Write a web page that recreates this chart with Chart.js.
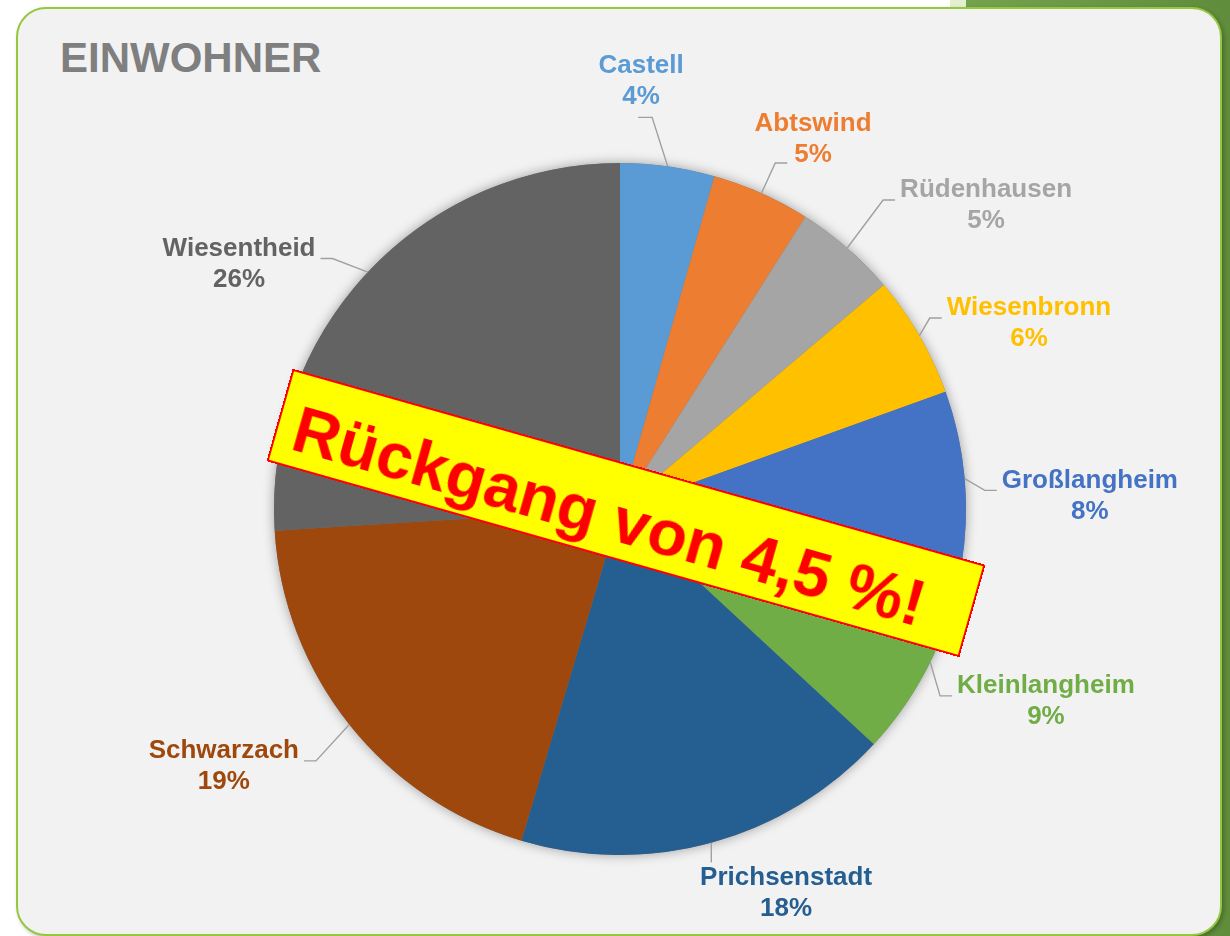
<!DOCTYPE html>
<html>
<head>
<meta charset="utf-8">
<script src="https://cdn.jsdelivr.net/npm/chart.js@4"></script>
<style>
  html, body { margin: 0; padding: 0; }
  body { width: 1230px; height: 936px; overflow: hidden; position: relative; background: #fff; font-family: "Liberation Sans", Arial, sans-serif; }
  .deco { position: absolute; left: 964px; top: 0; width: 266px; height: 936px; background: linear-gradient(to right, #74a24e, #5f8d3b); }
  .deco-light { position: absolute; left: 950px; top: 0; width: 16px; height: 8px; background: #e4efd2; }
  .panel { position: absolute; left: 16px; top: 7px; width: 1206px; height: 929px; box-sizing: border-box; background: #f2f2f2; border: 2px solid #95c83f; border-radius: 30px; box-shadow: 2px 2px 4px rgba(0,0,0,0.25); }
  .title { position: absolute; left: 60px; top: 37px; font-size: 42px; line-height: 42px; font-weight: bold; color: #7f7f7f; }
  .wrap { position: absolute; left: 0; top: 0; width: 1230px; height: 936px; }
  .banner { position: absolute; left: 266px; top: 465px; width: 720px; height: 96px; box-sizing: border-box; background: #ffff00; border: 2px solid #ff0000; color: #ff0000; font-weight: bold; font-size: 65px; line-height: 108px; padding-left: 16px; white-space: nowrap; transform: rotate(15.8deg); transform-origin: 50% 50%; }
</style>
</head>
<body>
<div class="deco"></div>
<div class="deco-light"></div>
<div class="panel"></div>
<div class="title">EINWOHNER</div>
<div class="wrap"><canvas id="pie" width="1230" height="936"></canvas></div>
<div class="banner">Rückgang von 4,5 %!</div>
<script>
// population share per municipality (percent of total)
const towns = ['Castell', 'Abtswind', 'Rüdenhausen', 'Wiesenbronn', 'Großlangheim', 'Kleinlangheim', 'Prichsenstadt', 'Schwarzach', 'Wiesentheid'];
const shares = [4.4, 4.6, 4.8, 5.7, 8.2, 9.2, 17.7, 19.4, 26.0];
const sliceColors = ['#5b9bd5', '#ed7d31', '#a5a5a5', '#ffc000', '#4472c4', '#70ad47', '#255e91', '#9e480e', '#636363'];

// label box centre relative to pie centre, in units of the radius, and where the leader line attaches
const labelSpots = [
  [0.061, -1.236, 'below'],
  [0.558, -1.068, 'l2'],
  [1.058, -0.877, 'left'],
  [1.182, -0.536, 'left'],
  [1.358, -0.038, 'left'],
  [1.231, 0.556, 'left'],
  [0.480, 1.111, 'above'],
  [-1.145, 0.744, 'right'],
  [-1.101, -0.708, 'right']
];

const FONT = 'bold 26px "Liberation Sans", Arial, sans-serif';
const LINE_H = 31;

const pieShadow = {
  id: 'pieShadow',
  beforeDatasetsDraw(chart) {
    const arc = chart.getDatasetMeta(0).data[0];
    if (!arc) return;
    const ctx = chart.ctx;
    ctx.save();
    ctx.shadowColor = 'rgba(0,0,0,0.35)';
    ctx.shadowBlur = 12;
    ctx.beginPath();
    ctx.arc(arc.x, arc.y, arc.outerRadius, 0, Math.PI * 2);
    ctx.fillStyle = '#777';
    ctx.fill();
    ctx.restore();
  }
};

const outsideLabels = {
  id: 'outsideLabels',
  afterDatasetsDraw(chart) {
    const ctx = chart.ctx;
    const meta = chart.getDatasetMeta(0);
    const total = shares.reduce((a, b) => a + b, 0);
    ctx.save();
    ctx.font = FONT;
    meta.data.forEach((arc, i) => {
      const R = arc.outerRadius;
      const mid = (arc.startAngle + arc.endAngle) / 2;
      const ax = arc.x + R * Math.cos(mid), ay = arc.y + R * Math.sin(mid);
      const [fx, fy, mode] = labelSpots[i];
      const cx = arc.x + fx * R, cy = arc.y + fy * R;
      const name = towns[i];
      const pct = Math.round(shares[i] / total * 100) + '%';
      const w1 = ctx.measureText(name).width, w2 = ctx.measureText(pct).width;

      // leader line
      let ex, ey, kx, ky;
      if (mode === 'below') { ex = cx - 3; ey = cy + LINE_H + 5; kx = ex + 14; ky = ey; }
      else if (mode === 'l2') { ex = cx - w2 / 2 - 7; ey = cy + LINE_H / 2 + 8; kx = ex - 12; ky = ey; }
      else if (mode === 'left') { ex = cx - w1 / 2 - 5; ey = cy - LINE_H / 2 + 10; kx = ex - 12; ky = ey; }
      else if (mode === 'right') { ex = cx + w1 / 2 + 5; ey = cy - LINE_H / 2 + 10; kx = ex + 12; ky = ey; }
      else { ex = ax; ey = cy - LINE_H; kx = ax; ky = ay; }
      ctx.strokeStyle = '#a0a0a0';
      ctx.lineWidth = 1.4;
      ctx.beginPath();
      ctx.moveTo(ax, ay);
      ctx.lineTo(kx, ky);
      ctx.lineTo(ex, ey);
      ctx.stroke();

      ctx.fillStyle = sliceColors[i];
      ctx.textAlign = 'center';
      ctx.textBaseline = 'middle';
      ctx.fillText(name, cx, cy - LINE_H / 2);
      ctx.fillText(pct, cx, cy + LINE_H / 2);
    });
    ctx.restore();
  }
};

new Chart(document.getElementById('pie'), {
  type: 'pie',
  data: {
    labels: towns,
    datasets: [{ data: shares, backgroundColor: sliceColors, borderWidth: 0 }]
  },
  options: {
    responsive: false,
    animation: false,
    layout: { padding: { top: 163, bottom: 81, left: 100, right: 90 } },
    plugins: { legend: { display: false }, tooltip: { enabled: false }, title: { display: false } }
  },
  plugins: [pieShadow, outsideLabels]
});
</script>
</body>
</html>
